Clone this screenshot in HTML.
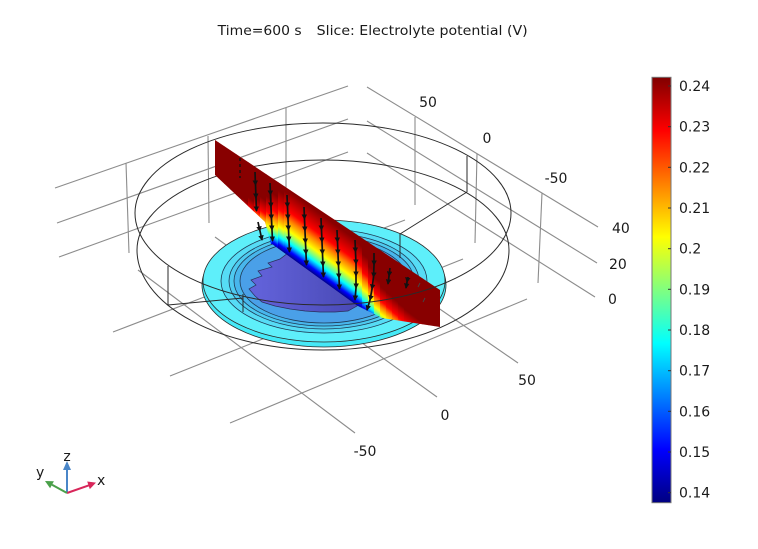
<!DOCTYPE html>
<html>
<head>
<meta charset="utf-8">
<style>
html,body{margin:0;padding:0;background:#ffffff;}
svg{display:block;}
text{font-family:"DejaVu Sans","Liberation Sans",sans-serif;fill:#1a1a1a;}
</style>
</head>
<body>
<svg width="758" height="549" viewBox="0 0 758 549" xmlns="http://www.w3.org/2000/svg" xmlns:xlink="http://www.w3.org/1999/xlink">
<defs>
  <linearGradient id="cb" x1="0" y1="0" x2="0" y2="1">
    <stop offset="0" stop-color="#800000"/>
    <stop offset="0.125" stop-color="#ff0000"/>
    <stop offset="0.25" stop-color="#ff8000"/>
    <stop offset="0.375" stop-color="#ffff00"/>
    <stop offset="0.5" stop-color="#80ff80"/>
    <stop offset="0.625" stop-color="#00ffff"/>
    <stop offset="0.75" stop-color="#0080ff"/>
    <stop offset="0.875" stop-color="#0000ff"/>
    <stop offset="1" stop-color="#000080"/>
  </linearGradient>
  <linearGradient id="jb" x1="0" y1="0" x2="0" y2="1">
    <stop offset="0" stop-color="#880000"/>
    <stop offset="0.319" stop-color="#ff0000"/>
    <stop offset="0.45" stop-color="#ff8000"/>
    <stop offset="0.615" stop-color="#ffff00"/>
    <stop offset="0.71" stop-color="#80ff80"/>
    <stop offset="0.796" stop-color="#00ffff"/>
    <stop offset="0.865" stop-color="#0080ff"/>
    <stop offset="0.923" stop-color="#0000ff"/>
    <stop offset="1" stop-color="#000090"/>
  </linearGradient>
  <linearGradient id="s0" href="#jb" xlink:href="#jb" gradientUnits="userSpaceOnUse" gradientTransform="skewY(35.93)" x1="0" y1="42.91" x2="0" y2="55.01"/>
  <linearGradient id="s1" href="#jb" xlink:href="#jb" gradientUnits="userSpaceOnUse" gradientTransform="skewY(35.93)" x1="0" y1="38.96" x2="0" y2="54.36"/>
  <linearGradient id="s2" href="#jb" xlink:href="#jb" gradientUnits="userSpaceOnUse" gradientTransform="skewY(35.93)" x1="0" y1="34.92" x2="0" y2="53.62"/>
  <linearGradient id="s3" href="#jb" xlink:href="#jb" gradientUnits="userSpaceOnUse" gradientTransform="skewY(35.93)" x1="0" y1="30.82" x2="0" y2="52.92"/>
  <linearGradient id="s4" href="#jb" xlink:href="#jb" gradientUnits="userSpaceOnUse" gradientTransform="skewY(35.93)" x1="0" y1="26.72" x2="0" y2="52.22"/>
  <linearGradient id="s5" href="#jb" xlink:href="#jb" gradientUnits="userSpaceOnUse" gradientTransform="skewY(35.93)" x1="0" y1="22.17" x2="0" y2="51.87"/>
  <linearGradient id="s6" href="#jb" xlink:href="#jb" gradientUnits="userSpaceOnUse" gradientTransform="skewY(35.93)" x1="0" y1="17.43" x2="0" y2="51.63"/>
  <linearGradient id="s7" href="#jb" xlink:href="#jb" gradientUnits="userSpaceOnUse" gradientTransform="skewY(35.93)" x1="0" y1="12.68" x2="0" y2="51.28"/>
  <linearGradient id="s8" href="#jb" xlink:href="#jb" gradientUnits="userSpaceOnUse" gradientTransform="skewY(35.93)" x1="0" y1="7.93" x2="0" y2="51.03"/>
  <linearGradient id="s9" href="#jb" xlink:href="#jb" gradientUnits="userSpaceOnUse" gradientTransform="skewY(35.93)" x1="0" y1="2.78" x2="0" y2="50.48"/>
  <linearGradient id="s10" href="#jb" xlink:href="#jb" gradientUnits="userSpaceOnUse" gradientTransform="skewY(35.93)" x1="0" y1="-4.57" x2="0" y2="48.33"/>
  <linearGradient id="s11" href="#jb" xlink:href="#jb" gradientUnits="userSpaceOnUse" gradientTransform="skewY(35.93)" x1="0" y1="-11.31" x2="0" y2="46.59"/>
  <linearGradient id="s12" href="#jb" xlink:href="#jb" gradientUnits="userSpaceOnUse" gradientTransform="skewY(35.93)" x1="0" y1="-15.06" x2="0" y2="46.64"/>
  <linearGradient id="sm" href="#jb" xlink:href="#jb" gradientUnits="userSpaceOnUse" gradientTransform="skewY(35.93)" x1="0" y1="-18.38" x2="0" y2="46.62"/>
  <linearGradient id="s24" href="#jb" xlink:href="#jb" gradientUnits="userSpaceOnUse" gradientTransform="skewY(35.93)" x1="0" y1="-15.87" x2="0" y2="47.13"/>
  <linearGradient id="s25" href="#jb" xlink:href="#jb" gradientUnits="userSpaceOnUse" gradientTransform="skewY(35.93)" x1="0" y1="-8.37" x2="0" y2="48.63"/>
  <linearGradient id="s26" href="#jb" xlink:href="#jb" gradientUnits="userSpaceOnUse" gradientTransform="skewY(35.93)" x1="0" y1="-0.85" x2="0" y2="50.37"/>
  <linearGradient id="s27" href="#jb" xlink:href="#jb" gradientUnits="userSpaceOnUse" gradientTransform="skewY(35.93)" x1="0" y1="6.69" x2="0" y2="53.23"/>
  <linearGradient id="s28" href="#jb" xlink:href="#jb" gradientUnits="userSpaceOnUse" gradientTransform="skewY(35.93)" x1="0" y1="11.08" x2="0" y2="55.28"/>
  <linearGradient id="s29" href="#jb" xlink:href="#jb" gradientUnits="userSpaceOnUse" gradientTransform="skewY(35.93)" x1="0" y1="12.23" x2="0" y2="56.43"/>
  <linearGradient id="s30" href="#jb" xlink:href="#jb" gradientUnits="userSpaceOnUse" gradientTransform="skewY(35.93)" x1="0" y1="13.48" x2="0" y2="57.68"/>
  <linearGradient id="s31" href="#jb" xlink:href="#jb" gradientUnits="userSpaceOnUse" gradientTransform="skewY(35.93)" x1="0" y1="14.74" x2="0" y2="58.94"/>
  <linearGradient id="s32" href="#jb" xlink:href="#jb" gradientUnits="userSpaceOnUse" gradientTransform="skewY(35.93)" x1="0" y1="15.99" x2="0" y2="60.19"/>
  <linearGradient id="s33" href="#jb" xlink:href="#jb" gradientUnits="userSpaceOnUse" gradientTransform="skewY(35.93)" x1="0" y1="16.26" x2="0" y2="59.24"/>
  <linearGradient id="s34" href="#jb" xlink:href="#jb" gradientUnits="userSpaceOnUse" gradientTransform="skewY(35.93)" x1="0" y1="16.37" x2="0" y2="57.89"/>
  <linearGradient id="s35" href="#jb" xlink:href="#jb" gradientUnits="userSpaceOnUse" gradientTransform="skewY(35.93)" x1="0" y1="16.50" x2="0" y2="56.54"/>
  <linearGradient id="s36" href="#jb" xlink:href="#jb" gradientUnits="userSpaceOnUse" gradientTransform="skewY(35.93)" x1="0" y1="16.62" x2="0" y2="55.20"/>
  <linearGradient id="s37" href="#jb" xlink:href="#jb" gradientUnits="userSpaceOnUse" gradientTransform="skewY(35.93)" x1="0" y1="16.72" x2="0" y2="53.85"/>
  <linearGradient id="s38" href="#jb" xlink:href="#jb" gradientUnits="userSpaceOnUse" gradientTransform="skewY(35.93)" x1="0" y1="17.90" x2="0" y2="53.00"/>
  <clipPath id="planeclip">
    <polygon points="215,140 440,290 440,327 382,318 357,305.5 272,244 271,244 265,222 215,175"/>
  </clipPath>
  <linearGradient id="purp" x1="0" y1="0" x2="1" y2="0">
    <stop offset="0" stop-color="#6464dc"/>
    <stop offset="1" stop-color="#4848b4"/>
  </linearGradient>
  <marker id="ah" viewBox="0 0 6 6" refX="5" refY="3" markerWidth="5.5" markerHeight="5.5" orient="auto" markerUnits="userSpaceOnUse">
    <path d="M0,0 L6,3 L0,6 z" fill="#111"/>
  </marker>
</defs>

<!-- Title -->
<text x="217.7" y="35" font-size="13.5" textLength="84" lengthAdjust="spacingAndGlyphs">Time=600 s</text>
<text x="316.7" y="35" font-size="13.5" textLength="211" lengthAdjust="spacingAndGlyphs">Slice: Electrolyte potential (V)</text>

<!-- Grid: back walls and floor -->
<g stroke="#8c8c8c" stroke-width="1.1" fill="none">
  <line x1="55" y1="188" x2="348" y2="86"/>
  <line x1="57" y1="223" x2="348" y2="119"/>
  <line x1="59" y1="257" x2="348" y2="152"/>
  <line x1="126" y1="163" x2="129" y2="253"/>
  <line x1="208" y1="136" x2="209" y2="223"/>
  <line x1="286" y1="108" x2="286" y2="193"/>
  <line x1="367" y1="87" x2="598" y2="227"/>
  <line x1="367" y1="121" x2="597" y2="263"/>
  <line x1="367" y1="153" x2="595" y2="297"/>
  <line x1="415" y1="117" x2="415" y2="205"/>
  <line x1="477" y1="154" x2="475" y2="243"/>
  <line x1="542" y1="193" x2="538" y2="283"/>
  <line x1="113" y1="332" x2="405" y2="220"/>
  <line x1="170" y1="376" x2="463" y2="259"/>
  <line x1="230" y1="423" x2="527" y2="299"/>
  <line x1="138" y1="270" x2="355" y2="433"/>
  <line x1="215" y1="237" x2="437" y2="397"/>
  <line x1="292" y1="207" x2="518" y2="363"/>
</g>

<!-- Axis labels -->
<g font-size="14">
  <text x="428" y="107" text-anchor="middle">50</text>
  <text x="487" y="143" text-anchor="middle">0</text>
  <text x="556" y="183" text-anchor="middle">-50</text>
  <text x="612" y="233">40</text>
  <text x="609" y="269">20</text>
  <text x="608" y="304">0</text>
  <text x="527" y="385" text-anchor="middle">50</text>
  <text x="445" y="420" text-anchor="middle">0</text>
  <text x="365" y="456" text-anchor="middle">-50</text>
</g>

<!-- Disk -->
<ellipse cx="324" cy="285" rx="122" ry="62" fill="#45e9f7" stroke="#2a2a2a" stroke-width="0.8"/>
<ellipse cx="324" cy="281" rx="121" ry="61" fill="#5eeffa" stroke="#2a2a2a" stroke-width="0.8"/>
<ellipse cx="324" cy="281" rx="103" ry="52" fill="#56dcf5" stroke="#1f3a55" stroke-width="0.8"/>
<ellipse cx="324" cy="281" rx="95" ry="48" fill="#4ecaf0" stroke="#1f3a55" stroke-width="0.8"/>
<ellipse cx="324" cy="281" rx="90" ry="45" fill="#48b6ec" stroke="#1f3a55" stroke-width="0.8"/>
<ellipse cx="324" cy="281" rx="84" ry="42" fill="#4aa0e8" stroke="#1f3a55" stroke-width="0.8"/>

<!-- Purple electrode region -->
<polygon points="292,250 280,259 268,263 272,267 258,271 262,276 251,280 256,285 249,289 255,296 262,302 275,306 290,309 305,311 320,312 335,312 348,311 357,306 360,300"
  fill="url(#purp)" stroke="#2a2f5a" stroke-width="0.7"/>

<!-- Outer cylinder bottom rim -->
<path d="M137,250 A186,90 0 0 1 509,250 A186,100 0 0 1 137,250" fill="none" stroke="#2a2a2a" stroke-width="1"/>

<!-- Slice plane -->
<g clip-path="url(#planeclip)">
  <rect x="212" y="130" width="6.4" height="210" fill="url(#s0)"/>
  <rect x="218" y="130" width="6.4" height="210" fill="url(#s1)"/>
  <rect x="224" y="130" width="6.4" height="210" fill="url(#s2)"/>
  <rect x="230" y="130" width="6.4" height="210" fill="url(#s3)"/>
  <rect x="236" y="130" width="6.4" height="210" fill="url(#s4)"/>
  <rect x="242" y="130" width="6.4" height="210" fill="url(#s5)"/>
  <rect x="248" y="130" width="6.4" height="210" fill="url(#s6)"/>
  <rect x="254" y="130" width="6.4" height="210" fill="url(#s7)"/>
  <rect x="260" y="130" width="6.4" height="210" fill="url(#s8)"/>
  <rect x="266" y="130" width="6.4" height="210" fill="url(#s9)"/>
  <rect x="272" y="130" width="6.4" height="210" fill="url(#s10)"/>
  <rect x="278" y="130" width="6.4" height="210" fill="url(#s11)"/>
  <rect x="284" y="130" width="6.4" height="210" fill="url(#s12)"/>
  <rect x="290" y="130" width="66.4" height="210" fill="url(#sm)"/>
  <rect x="356" y="130" width="6.4" height="210" fill="url(#s24)"/>
  <rect x="362" y="130" width="6.4" height="210" fill="url(#s25)"/>
  <rect x="368" y="130" width="6.4" height="210" fill="url(#s26)"/>
  <rect x="374" y="130" width="6.4" height="210" fill="url(#s27)"/>
  <rect x="380" y="130" width="6.4" height="210" fill="url(#s28)"/>
  <rect x="386" y="130" width="6.4" height="210" fill="url(#s29)"/>
  <rect x="392" y="130" width="6.4" height="210" fill="url(#s30)"/>
  <rect x="398" y="130" width="6.4" height="210" fill="url(#s31)"/>
  <rect x="404" y="130" width="6.4" height="210" fill="url(#s32)"/>
  <rect x="410" y="130" width="6.4" height="210" fill="url(#s33)"/>
  <rect x="416" y="130" width="6.4" height="210" fill="url(#s34)"/>
  <rect x="422" y="130" width="6.4" height="210" fill="url(#s35)"/>
  <rect x="428" y="130" width="6.4" height="210" fill="url(#s36)"/>
  <rect x="434" y="130" width="6.4" height="210" fill="url(#s37)"/>
  <rect x="440" y="130" width="6.4" height="210" fill="url(#s38)"/>
</g>

<!-- Arrows on slice -->
<g fill="none" stroke="#111" stroke-width="1.7" marker-mid="url(#ah)" marker-end="url(#ah)">
  <polyline points="255,172 255.5,185 256,198 256.5,211"/>
  <polyline points="258,222 260,231 262,240"/>
  <polyline points="270,183 270.5,195 271,207 271.5,219 272,230 272.5,241"/>
  <polyline points="287,195 287.5,207 288,219 288.5,230 289,241 289.5,252"/>
  <polyline points="304,207 304.5,219 305,231 305.5,243 306,254 306.5,265"/>
  <polyline points="321,218 321.5,230 322,242 322.5,254 323,266 323.5,277"/>
  <polyline points="337,230 337.5,242 338,254 338.5,266 339,278 339.5,289"/>
  <polyline points="355,240 355.5,252 356,264 356,276 356,288 355,300"/>
  <polyline points="374,253 374,265 373.5,277 372,289 370,300 367,310"/>
  <polyline points="390,268 389,276 388,284"/>
  <polyline points="408,277 407,282 406,288"/>
</g>
<g stroke="#111" stroke-width="1.4" stroke-dasharray="3,3">
  <line x1="240" y1="158" x2="240" y2="178"/>
</g>
<g stroke="#444" stroke-width="1">
  <line x1="420" y1="283" x2="418" y2="287"/>
  <line x1="425" y1="298" x2="423" y2="302"/>
</g>

<!-- Outer cylinder top rim and cut edges -->
<g fill="none" stroke="#2a2a2a" stroke-width="1">
  <path d="M135,213 A188,90 0 0 1 511,213 A188,92 0 0 1 135,213"/>
  <line x1="168" y1="266" x2="168" y2="305"/>
  <line x1="168" y1="305" x2="243" y2="298"/>
  <line x1="243" y1="294" x2="243" y2="312"/>
  <line x1="467" y1="156" x2="467" y2="192"/>
  <line x1="467" y1="192" x2="400" y2="234"/>
  <line x1="400" y1="234" x2="400" y2="258"/>
</g>

<!-- Colorbar -->
<rect x="652" y="77.3" width="19" height="425.4" fill="url(#cb)" stroke="#777" stroke-width="1"/>
<g stroke="#333" stroke-width="1">
  <line x1="668" y1="86" x2="671" y2="86"/>
  <line x1="668" y1="126.7" x2="671" y2="126.7"/>
  <line x1="668" y1="167.3" x2="671" y2="167.3"/>
  <line x1="668" y1="208" x2="671" y2="208"/>
  <line x1="668" y1="248.7" x2="671" y2="248.7"/>
  <line x1="668" y1="289.3" x2="671" y2="289.3"/>
  <line x1="668" y1="330" x2="671" y2="330"/>
  <line x1="668" y1="370.7" x2="671" y2="370.7"/>
  <line x1="668" y1="411.3" x2="671" y2="411.3"/>
  <line x1="668" y1="452" x2="671" y2="452"/>
  <line x1="668" y1="492.7" x2="671" y2="492.7"/>
</g>
<g font-size="14">
  <text x="679" y="91">0.24</text>
  <text x="679" y="131.7">0.23</text>
  <text x="679" y="172.3">0.22</text>
  <text x="679" y="213">0.21</text>
  <text x="679" y="253.7">0.2</text>
  <text x="679" y="294.3">0.19</text>
  <text x="679" y="335">0.18</text>
  <text x="679" y="375.7">0.17</text>
  <text x="679" y="416.3">0.16</text>
  <text x="679" y="457">0.15</text>
  <text x="679" y="497.7">0.14</text>
</g>

<!-- Axis triad -->
<line x1="67" y1="493" x2="67" y2="469" stroke="#4a86c8" stroke-width="2"/>
<polygon points="63,470 71,470 67,461" fill="#4a86c8"/>
<line x1="67" y1="493" x2="89" y2="485.3" stroke="#d8265a" stroke-width="2"/>
<polygon points="96,482.6 89.8,489.1 87.2,481.5" fill="#d8265a"/>
<line x1="67" y1="493" x2="52" y2="484.8" stroke="#4aa04a" stroke-width="2"/>
<polygon points="45,481 53.9,481.3 50.1,488.3" fill="#4aa04a"/>
<text x="67" y="461" font-size="14" text-anchor="middle">z</text>
<text x="97" y="485" font-size="14">x</text>
<text x="36" y="477" font-size="14">y</text>
</svg>
</body>
</html>
